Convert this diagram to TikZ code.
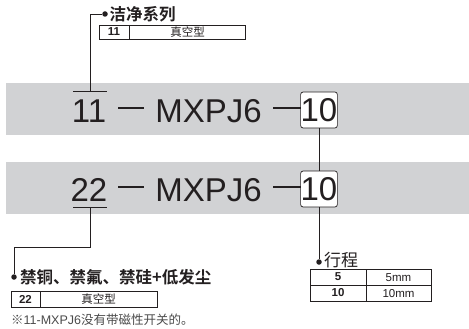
\documentclass[tikz,border=0pt]{standalone}
\usepackage{fontspec}
\setmainfont{Liberation Sans}
\newfontfamily\cjk[BoldFont={Noto Sans CJK SC Bold}]{Noto Sans CJK SC}
\definecolor{bandgray}{HTML}{D1D2D4}
\definecolor{notegray}{HTML}{4A4A4A}
\definecolor{ink}{HTML}{231F20}
\begin{document}
\begin{tikzpicture}[x=1pt,y=-1pt,
  big/.style={font=\fontsize{33}{33}\selectfont, inner sep=0pt, text=ink},
  numbox/.style={big, draw=ink, line width=0.7pt, fill=white, rounded corners=2.5pt, minimum width=36pt, minimum height=36pt},
  dashbar/.style={line width=2.4pt, ink},
  conn/.style={line width=0.8pt, ink},
  dot/.style={circle, fill=ink, inner sep=0pt, minimum size=5.5pt},
  head/.style={font=\cjk\bfseries\fontsize{16.5}{16.5}\selectfont, inner sep=0pt, anchor=west, text=ink},
  headr/.style={font=\cjk\fontsize{17}{17}\selectfont, inner sep=0pt, anchor=west, text=ink},
  cellb/.style={font=\bfseries\fontsize{11.5}{11.5}\selectfont, inner sep=0pt, text=ink},
  cell/.style={font=\fontsize{11.5}{11.5}\selectfont, inner sep=0pt, text=ink},
  cellc/.style={font=\cjk\fontsize{11.5}{11.5}\selectfont, inner sep=0pt, text=ink},
  tab/.style={line width=0.7pt, ink}
]
\useasboundingbox (0,0) rectangle (469,329);
% bands
\fill[bandgray] (6,83) rectangle (469,135);
\fill[bandgray] (6,162) rectangle (469,214);
% row 1
\node[big, anchor=base] (n11) at (89,122) {11};
\node[big, anchor=base] (m1) at (208.5,122) {MXPJ6};
\node[numbox] (b1) at (319,110) {10};
\draw[dashbar] (118,108) -- (144,108);
\draw[dashbar] (273,108) -- (300.5,108);
\coordinate (ol1) at (90,91);
\draw[conn] (73,91) -- (107,91);
% row 2
\node[big, anchor=base] (n22) at (89,201) {22};
\node[big, anchor=base] (m2) at (208.5,201) {MXPJ6};
\node[numbox] (b2) at (319,189) {10};
\draw[dashbar] (118,187) -- (144,187);
\draw[dashbar] (273,187) -- (300.5,187);
\coordinate (ul2) at (90,207);
\draw[conn] (73,207) -- (107,207);
% top label
\node[dot] (d1) at (105,14) {};
\node[head] (h1) at (109.5,14) {洁净系列};
\draw[conn] (ol1) |- (d1);
\draw[tab] (99.5,25) rectangle (245.5,39);
\draw[tab] (129.5,25) -- (129.5,39);
\node[cellb] (t1a) at (114,32) {11};
\node[cellc] (t1b) at (187.5,32) {真空型};
% bottom left label
\node[dot] (d2) at (14,277) {};
\node[head] (h2) at (20,277) {禁铜、禁氟、禁硅+低发尘};
\coordinate (k2) at (90,247);
\draw[conn] (ul2) -- (k2) -| (d2);
\draw[tab] (11,291) rectangle (157,307);
\draw[tab] (40,291) -- (40,307);
\node[cellb] (t2a) at (25.5,299) {22};
\node[cellc] (t2b) at (98.5,299) {真空型};
% stroke label
\node[dot] (d3) at (319,262) {};
\node[headr] (h3) at (324,260.5) {行程};
\draw[conn] (b1) -- (b2);
\draw[conn] (b2) -- (d3);
\draw[tab] (310,269) rectangle (431,301);
\draw[tab] (310,285) -- (431,285);
\draw[tab] (366,269) -- (366,301);
\node[cellb] (t3a) at (338,277) {5};
\node[cell] (t3b) at (398.5,277.5) {5mm};
\node[cellb] (t3c) at (338,293) {10};
\node[cell] (t3d) at (398.5,293.5) {10mm};
% note
\node[font=\fontsize{12.5}{12.5}\selectfont, text=notegray, inner sep=0pt, anchor=west] (note) at (11,320) {{\cjk ※}11-MXPJ6{\cjk 没有带磁性开关的。}};
\end{tikzpicture}
\end{document}
